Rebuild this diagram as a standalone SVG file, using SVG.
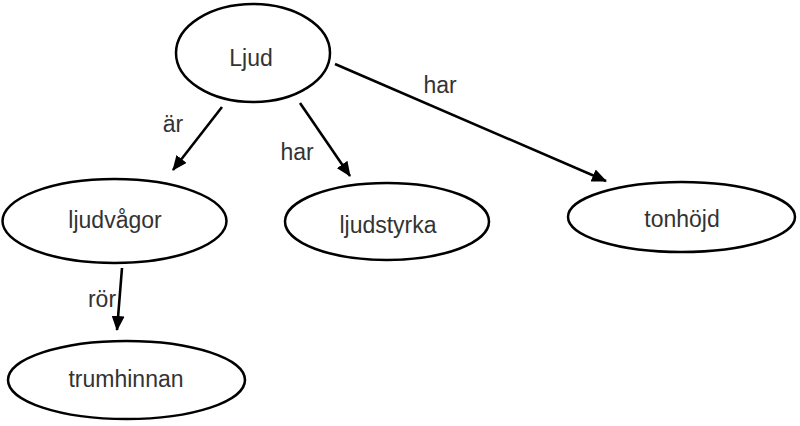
<svg xmlns="http://www.w3.org/2000/svg" width="800" height="426" viewBox="0 0 800 426">
<defs>
<style>
.node ellipse{fill:#fff;stroke:#000;stroke-width:2.5}
text{font-family:"Liberation Sans",Arial,sans-serif;font-size:23px;fill:#333;text-anchor:middle}
.edges line{stroke:#000;stroke-width:2.6}
</style>
<marker id="ah" markerWidth="15" markerHeight="13" refX="14" refY="6.5" orient="auto" markerUnits="userSpaceOnUse" viewBox="0 0 15 13">
<path d="M0,0 L15,6.5 L0,13 Z" fill="#000"/>
</marker>
</defs>
<rect width="800" height="426" fill="#fff"/>
<g class="edges">
<line x1="222" y1="107" x2="173" y2="170" marker-end="url(#ah)"/>
<line x1="300" y1="103" x2="350" y2="176" marker-end="url(#ah)"/>
<line x1="335" y1="64" x2="606" y2="181" marker-end="url(#ah)"/>
<line x1="122" y1="268" x2="117" y2="330" marker-end="url(#ah)"/>
<text x="173" y="132">är</text>
<text x="297" y="160">har</text>
<text x="440" y="93">har</text>
<text x="102" y="307">rör</text>
</g>
<g id="ljud" class="node"><ellipse cx="253" cy="53" rx="77" ry="49"/><text x="251" y="66">Ljud</text></g>
<g id="ljudvagor" class="node"><ellipse cx="114.5" cy="221" rx="112" ry="42"/><text x="115" y="228">ljudvågor</text></g>
<g id="ljudstyrka" class="node"><ellipse cx="387" cy="221.5" rx="102" ry="38.5"/><text x="388" y="233">ljudstyrka</text></g>
<g id="tonhojd" class="node"><ellipse cx="681.5" cy="217" rx="113.5" ry="35"/><text x="682" y="227">tonhöjd</text></g>
<g id="trumhinnan" class="node"><ellipse cx="126.5" cy="380" rx="118.5" ry="39"/><text x="126" y="387">trumhinnan</text></g>
</svg>
